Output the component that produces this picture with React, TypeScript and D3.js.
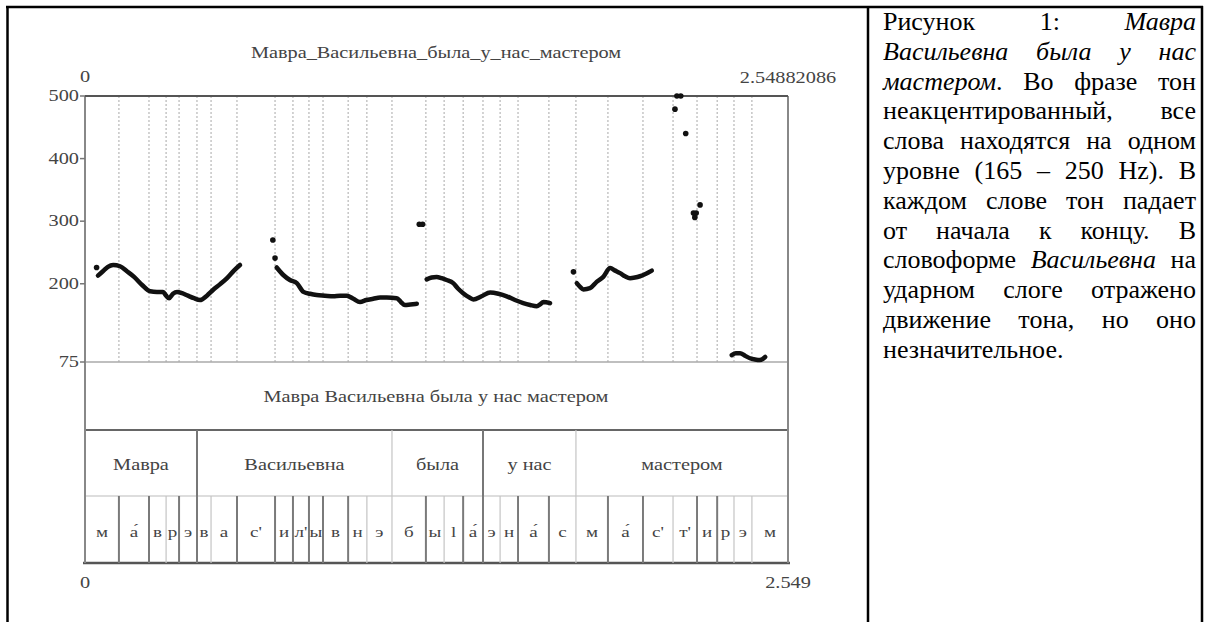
import React, { useEffect, useRef } from 'react';
import * as d3 from 'd3';

// total duration of the sound (s)
const duration = 2.54882086;
const durationShort = '2.549';
const title = 'Мавра_Васильевна_была_у_нас_мастером';
const sentence = 'Мавра Васильевна была у нас мастером';

const yTicks = [75, 200, 300, 400, 500];

// word tier
const words = ['Мавра', 'Васильевна', 'была', 'у нас', 'мастером'];
const wordStarts = [0, 0.406, 1.113, 1.443, 1.78];

// phone tier
const phones = [
  'м', 'а́', 'в', 'р', 'э',
  'в', 'а', "с'", 'и', "л'", 'ы', 'в', 'н', 'э',
  'б', 'ы', 'l', 'а́',
  'э', 'н', 'а́', 'с',
  'м', 'а́', "с'", "т'", 'и', 'р', 'э', 'м',
];
const phoneStarts = [
  0, 0.123, 0.232, 0.294, 0.341,
  0.406, 0.457, 0.551, 0.689, 0.754, 0.812, 0.863, 0.954, 1.022,
  1.113, 1.236, 1.302, 1.371,
  1.443, 1.505, 1.57, 1.682,
  1.78, 1.896, 2.023, 2.132, 2.219, 2.292, 2.353, 2.418,
];
const tierEnd = 2.549;

// pitch contour pieces: [time s, Hz]
const pitchMavra: [number, number][] = [
  [0.047, 213], [0.065, 220], [0.083, 227], [0.102, 230], [0.127, 228], [0.152, 220],
  [0.178, 211], [0.207, 198], [0.236, 188], [0.261, 187], [0.283, 187], [0.294, 181],
  [0.305, 177], [0.319, 184], [0.334, 187], [0.352, 185], [0.373, 181], [0.395, 177],
  [0.417, 174], [0.442, 181], [0.464, 190], [0.489, 199], [0.515, 209], [0.54, 221],
  [0.562, 230],
];
const pitchVasilievna: [number, number][] = [
  [0.695, 226], [0.719, 214], [0.743, 206], [0.768, 201], [0.792, 187], [0.816, 184],
  [0.84, 182], [0.87, 181], [0.9, 180], [0.925, 181], [0.949, 181], [0.973, 176],
  [0.997, 171], [1.02, 174], [1.045, 176], [1.07, 178], [1.094, 178], [1.13, 177],
  [1.145, 171], [1.16, 166], [1.18, 167], [1.203, 168],
];
const pitchByla: [number, number][] = [
  [1.239, 207], [1.257, 210], [1.275, 211], [1.293, 209], [1.311, 206], [1.335, 201],
  [1.353, 192], [1.371, 185], [1.39, 179], [1.408, 175], [1.438, 180], [1.469, 186],
  [1.499, 184], [1.529, 180], [1.559, 174], [1.589, 169], [1.614, 166], [1.638, 164],
  [1.65, 167], [1.662, 171], [1.686, 169],
];
const pitchMaster: [number, number][] = [
  [1.783, 201], [1.795, 195], [1.807, 191], [1.831, 193], [1.855, 203], [1.879, 211],
  [1.904, 225], [1.922, 221], [1.94, 217], [1.958, 212], [1.976, 209], [1.994, 210],
  [2.012, 212], [2.034, 216], [2.055, 221],
];
const pitchFinal: [number, number][] = [
  [2.345, 86], [2.36, 89], [2.375, 89], [2.393, 85], [2.411, 81], [2.429, 79],
  [2.447, 78], [2.466, 83],
];
const pitchSingles: [number, number][] = [
  [0.042, 226], [0.681, 270], [0.689, 241], [1.212, 295], [1.224, 295], [1.771, 219],
  [2.139, 479], [2.146, 500], [2.16, 500], [2.178, 440],
  [2.206, 313], [2.211, 306], [2.216, 313], [2.23, 326],
];

// caption text, *...* = italic
const captionLines = [
  'Рисунок 1: *Мавра*',
  '*Васильевна* *была* *у* *нас*',
  '*мастером*. Во фразе тон',
  'неакцентированный, все',
  'слова находятся на одном',
  'уровне (165 – 250 Hz). В',
  'каждом слове тон падает',
  'от начала к концу. В',
  'словоформе *Васильевна* на',
  'ударном слоге отражено',
  'движение тона, но оно',
  'незначительное.',
];

const SERIF = '"Liberation Serif", "Times New Roman", serif';

const App: React.FC = () => {
  const svgRef = useRef<SVGSVGElement>(null);

  useEffect(() => {
    if (!svgRef.current) return;
    const svg = d3.select(svgRef.current);
    svg.selectAll('*').remove();

    const left = 85, right = 788, top = 96, bottom = 362;
    const tier1 = 430, tier2 = 496, tierBottom = 563;
    const sx = 1.27; // the praat picture is stretched horizontally

    const x = d3.scaleLinear().domain([0, duration]).range([left, right]);
    const y = d3.scaleLinear().domain([75, 500]).range([bottom, top]);

    // table borders
    const border = svg.append('g').attr('stroke', '#000').attr('stroke-width', 2.5);
    border.append('line').attr('x1', 7.5).attr('x2', 7.5).attr('y1', 6).attr('y2', 622);
    border.append('line').attr('x1', 6).attr('x2', 1203).attr('y1', 7).attr('y2', 7);
    border.append('line').attr('x1', 868).attr('x2', 868).attr('y1', 6).attr('y2', 622);
    border.append('line').attr('x1', 1202).attr('x2', 1202).attr('y1', 6).attr('y2', 622);

    const chart = svg.append('g').attr('font-family', SERIF).attr('fill', '#444');

    const label = (str: string, px: number, py: number, size: number, anchor = 'middle') =>
      chart.append('text')
        .attr('transform', `translate(${px},${py}) scale(${sx},1)`)
        .attr('text-anchor', anchor)
        .attr('font-size', size)
        .text(str);

    const faint = new Set([3, 6, 13, 14, 16, 19, 22, 25, 28, 29]);

    // dotted phone boundaries in the pitch area
    chart.append('g')
      .selectAll('line')
      .data(phoneStarts.slice(1))
      .join('line')
      .attr('x1', d => x(d)).attr('x2', d => x(d))
      .attr('y1', top).attr('y2', bottom)
      .attr('stroke', '#a8a8a8')
      .attr('stroke-width', 1)
      .attr('stroke-dasharray', '2,2');

    // frame
    chart.append('line').attr('x1', left).attr('x2', right).attr('y1', bottom).attr('y2', bottom)
      .attr('stroke', '#aaa').attr('stroke-width', 1.5);
    chart.append('line').attr('x1', left).attr('x2', right).attr('y1', tier1).attr('y2', tier1)
      .attr('stroke', '#666').attr('stroke-width', 2);
    chart.append('line').attr('x1', left).attr('x2', right).attr('y1', tier2).attr('y2', tier2)
      .attr('stroke', '#bbb').attr('stroke-width', 1);
    chart.append('line').attr('x1', left - 2).attr('x2', right + 2).attr('y1', tierBottom).attr('y2', tierBottom)
      .attr('stroke', '#555').attr('stroke-width', 2.5);
    chart.append('line').attr('x1', left).attr('x2', left).attr('y1', top).attr('y2', tierBottom)
      .attr('stroke', '#888').attr('stroke-width', 2);
    chart.append('line').attr('x1', right).attr('x2', right).attr('y1', top).attr('y2', tierBottom)
      .attr('stroke', '#888').attr('stroke-width', 2);
    chart.append('line').attr('x1', left).attr('x2', right).attr('y1', top).attr('y2', top)
      .attr('stroke', '#555').attr('stroke-width', 2);

    // y axis ticks
    yTicks.forEach(t => {
      chart.append('line').attr('x1', left - 5).attr('x2', left).attr('y1', y(t)).attr('y2', y(t))
        .attr('stroke', '#777').attr('stroke-width', 1.5);
      label(String(t), left - 6, y(t) + 5, 16, 'end');
    });

    // titles and time labels
    label(title, 436, 58, 16);
    label('0', x(0), 82, 16);
    label(String(duration), x(duration), 83, 16);
    label('0', x(0), 588, 16);
    label(durationShort, x(duration), 588, 16);

    // sentence tier
    label(sentence, 436, 402, 16);

    // word tier
    wordStarts.forEach((s, i) => {
      const e = i < wordStarts.length - 1 ? wordStarts[i + 1] : tierEnd;
      if (i > 0) {
        const isFaint = faint.has(phoneStarts.indexOf(s));
        chart.append('line').attr('x1', x(s)).attr('x2', x(s)).attr('y1', tier1).attr('y2', tier2)
          .attr('stroke', isFaint ? '#c4c4c4' : '#777').attr('stroke-width', isFaint ? 1.2 : 2);
      }
      label(words[i], (x(s) + x(e)) / 2, 470, 16);
    });

    // phone tier
    phoneStarts.forEach((s, i) => {
      const e = i < phoneStarts.length - 1 ? phoneStarts[i + 1] : tierEnd;
      if (i > 0) {
        const isFaint = faint.has(i);
        chart.append('line').attr('x1', x(s)).attr('x2', x(s)).attr('y1', tier2).attr('y2', tierBottom)
          .attr('stroke', isFaint ? '#c4c4c4' : '#7a7a7a').attr('stroke-width', isFaint ? 1.2 : 2);
      }
      label(phones[i], (x(s) + x(e)) / 2, 537, 15);
    });

    // pitch contour
    const line = d3.line<[number, number]>()
      .x(d => x(d[0]))
      .y(d => y(d[1]))
      .curve(d3.curveMonotoneX);

    const pitch = svg.append('g');
    [pitchMavra, pitchVasilievna, pitchByla, pitchMaster, pitchFinal].forEach(seg => {
      pitch.append('path')
        .datum(seg)
        .attr('d', line)
        .attr('fill', 'none')
        .attr('stroke', '#111')
        .attr('stroke-width', 4.5)
        .attr('stroke-linecap', 'round')
        .attr('stroke-linejoin', 'round');
    });
    pitch.selectAll('circle')
      .data(pitchSingles)
      .join('circle')
      .attr('cx', d => x(d[0]))
      .attr('cy', d => y(d[1]))
      .attr('r', 2.8)
      .attr('fill', '#111');

    // caption, justified like in the document
    const capLeft = 883, capRight = 1196, capTop = 30, lineGap = 29.8;
    const cap = svg.append('g').attr('font-family', SERIF).attr('font-size', 26).attr('fill', '#000');
    captionLines.forEach((ln, li) => {
      const yy = capTop + li * lineGap;
      const tokens = ln.split(' ');
      const nodes = tokens.map(tok => {
        const t = cap.append('text').attr('y', yy);
        tok.split('*').forEach((piece, pi) => {
          if (!piece) return;
          t.append('tspan').attr('font-style', pi % 2 === 1 ? 'italic' : 'normal').text(piece);
        });
        return t;
      });
      const widths = nodes.map(n => (n.node() as SVGTextElement).getComputedTextLength());
      const total = d3.sum(widths);
      const last = li === captionLines.length - 1;
      const gap = last || nodes.length < 2 ? 6.5 : (capRight - capLeft - total) / (nodes.length - 1);
      let cx = capLeft;
      nodes.forEach((n, i) => {
        n.attr('x', cx);
        cx += widths[i] + gap;
      });
    });
  }, []);

  return (
    <svg
      ref={svgRef}
      width={1205}
      height={622}
      style={{ position: 'absolute', left: 0, top: 0, display: 'block', background: '#fff' }}
    />
  );
};

export default App;
